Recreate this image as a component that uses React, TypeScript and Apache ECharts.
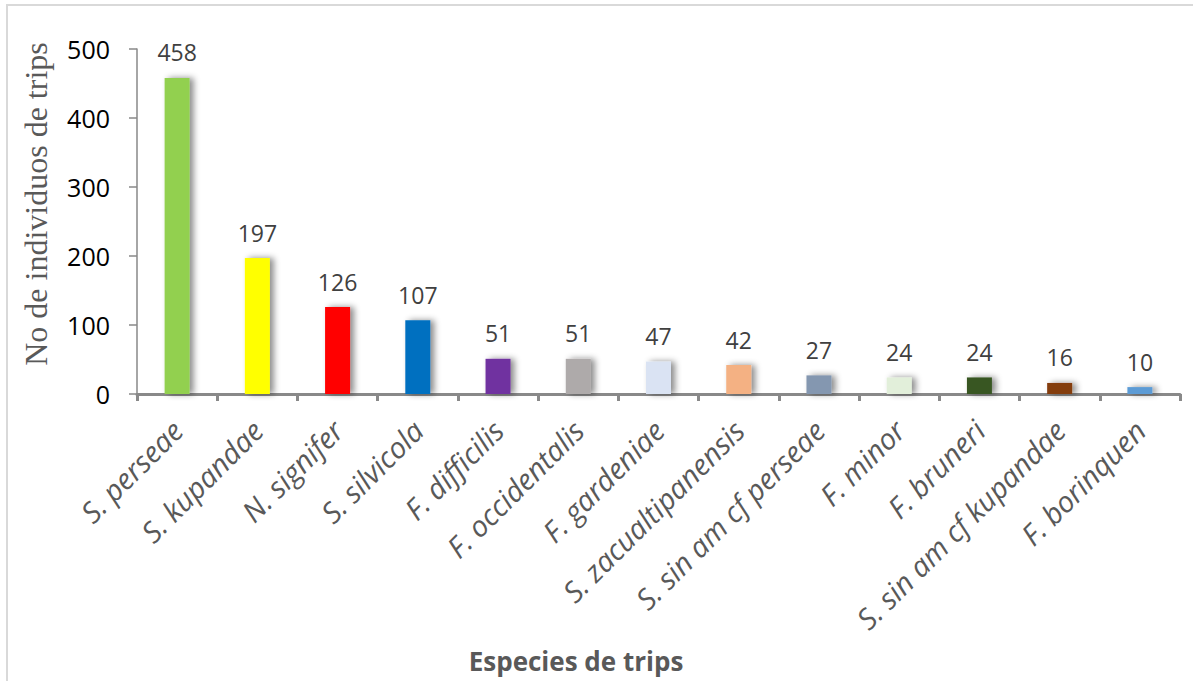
import React, { useEffect, useRef } from "react";
import * as echarts from "echarts";

const categories = [
  "S. perseae",
  "S. kupandae",
  "N. signifer",
  "S. silvicola",
  "F. difficilis",
  "F. occidentalis",
  "F. gardeniae",
  "S. zacualtipanensis",
  "S. sin am cf perseae",
  "F. minor",
  "F. bruneri",
  "S. sin am cf kupandae",
  "F. borinquen",
];
const values = [458, 197, 126, 107, 51, 51, 47, 42, 27, 24, 24, 16, 10];
const colors = [
  "#92D050",
  "#FFFF00",
  "#FF0000",
  "#0070C0",
  "#7030A0",
  "#AEAAAA",
  "#DAE3F3",
  "#F4B183",
  "#8497B0",
  "#E2EFDA",
  "#375623",
  "#843C0C",
  "#5B9BD5",
];
const yTitle = "No de individuos de trips";
const xTitle = "Especies de trips";

export default function App() {
  const ref = useRef<HTMLDivElement>(null);
  useEffect(() => {
    if (!ref.current) return;
    const chart = echarts.init(ref.current, null, { renderer: "svg" });
    chart.setOption({
      animation: false,
      backgroundColor: "#ffffff",
      grid: { left: 137, right: 13, top: 49, bottom: 287, containLabel: false },
      graphic: [
        {
          type: "rect",
          shape: { x: 7, y: 5, width: 1210, height: 700 },
          style: { fill: "none", stroke: "#D9D9D9", lineWidth: 2 },
          silent: true,
        },
        {
          type: "text",
          x: 36,
          y: 204,
          rotation: Math.PI / 2,
          style: {
            text: yTitle,
            font: "32px 'Liberation Serif', serif",
            fill: "#595959",
            textAlign: "center",
            textVerticalAlign: "middle",
          },
        },
        {
          type: "text",
          x: 576,
          y: 661,
          style: {
            text: xTitle,
            font: "bold 26px 'Open Sans', sans-serif",
            fill: "#595959",
            textAlign: "center",
            textVerticalAlign: "middle",
          },
        },
      ],
      xAxis: {
        type: "category",
        data: categories,
        axisLine: { show: true, lineStyle: { color: "#898989", width: 3 } },
        axisTick: { show: true, alignWithLabel: false, length: 7, lineStyle: { color: "#898989", width: 3 } },
        axisLabel: {
          rotate: 45,
          interval: 0,
          margin: 31,
          color: "#595959",
          fontSize: 29,
          fontStyle: "italic",
          fontFamily: "'Open Sans', sans-serif",
        },
        splitLine: { show: false },
      },
      yAxis: {
        type: "value",
        min: 0,
        max: 500,
        interval: 100,
        axisLine: { show: true, lineStyle: { color: "#898989", width: 1.5 } },
        axisTick: { show: true, length: 8, lineStyle: { color: "#898989", width: 1.5 } },
        axisLabel: {
          color: "#000000",
          fontSize: 25,
          margin: 27,
          fontFamily: "'Open Sans', sans-serif",
        },
        splitLine: { show: false },
      },
      series: [
        {
          type: "bar",
          data: values.map((v, i) => ({ value: v, itemStyle: { color: colors[i] } })),
          barWidth: 25,
          itemStyle: {
            shadowColor: "rgba(0,0,0,0.45)",
            shadowBlur: 6,
            shadowOffsetX: 4,
            shadowOffsetY: 0,
          },
          label: {
            show: true,
            position: "top",
            distance: 14,
            color: "#404040",
            fontSize: 23,
            fontFamily: "'Open Sans', sans-serif",
          },
        },
      ],
    });
    return () => chart.dispose();
  }, []);
  return (
    <div
      ref={ref}
      style={{ position: "absolute", left: 0, top: 0, width: 1193, height: 681 }}
    />
  );
}
